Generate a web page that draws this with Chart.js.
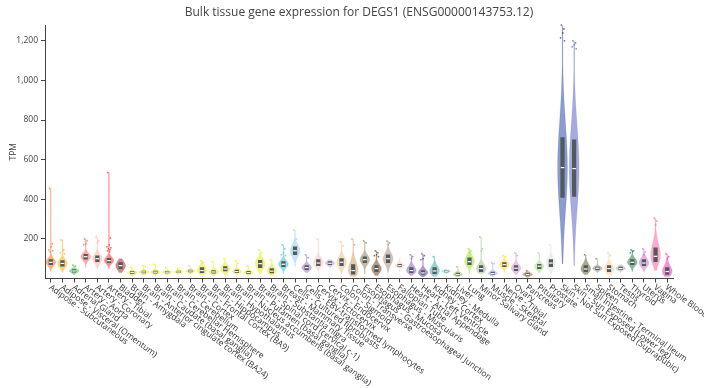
<!DOCTYPE html>
<html>
<head>
<meta charset="utf-8">
<script src="https://cdn.jsdelivr.net/npm/chart.js@4"></script>
<style>
  body { margin: 0; background: #fff; }
  #wrap { width: 704px; height: 388px; }
</style>
</head>
<body>
<div id="wrap"><canvas id="grafico"></canvas></div>
<script>
// tecidos (GTEx)
const tecidos = [
    'Adipose - Subcutaneous', 'Adipose - Visceral (Omentum)', 'Adrenal Gland', 'Artery - Aorta',
    'Artery - Coronary', 'Artery - Tibial', 'Bladder', 'Brain - Amygdala',
    'Brain - Anterior cingulate cortex (BA24)', 'Brain - Caudate (basal ganglia)', 'Brain - Cerebellar Hemisphere', 'Brain - Cerebellum',
    'Brain - Cortex', 'Brain - Frontal Cortex (BA9)', 'Brain - Hippocampus', 'Brain - Hypothalamus',
    'Brain - Nucleus accumbens (basal ganglia)', 'Brain - Putamen (basal ganglia)', 'Brain - Spinal cord (cervical c-1)', 'Brain - Substantia nigra',
    'Breast - Mammary Tissue', 'Cells - Cultured fibroblasts', 'Cells - EBV-transformed lymphocytes', 'Cervix - Ectocervix',
    'Cervix - Endocervix', 'Colon - Sigmoid', 'Colon - Transverse', 'Esophagus - Gastroesophageal Junction',
    'Esophagus - Mucosa', 'Esophagus - Muscularis', 'Fallopian Tube', 'Heart - Atrial Appendage',
    'Heart - Left Ventricle', 'Kidney - Cortex', 'Kidney - Medulla', 'Liver',
    'Lung', 'Minor Salivary Gland', 'Muscle - Skeletal', 'Nerve - Tibial',
    'Ovary', 'Pancreas', 'Pituitary', 'Prostate',
    'Skin - Not Sun Exposed (Suprapubic)', 'Skin - Sun Exposed (Lower leg)', 'Small Intestine - Terminal Ileum', 'Spleen',
    'Stomach', 'Testis', 'Thyroid', 'Uterus',
    'Vagina', 'Whole Blood'
];

const cores = [
    '#ff6600', '#ffaa00', '#33cc33', '#ff5555', '#ffaa99', '#ff2222', '#aa1111', '#e8e800',
    '#e8e800', '#e8e800', '#e8e800', '#e8e800', '#e8e800', '#e8e800', '#e8e800', '#e8e800',
    '#e8e800', '#e8e800', '#e8e800', '#e8e800', '#33bbcc', '#88ccee', '#9966cc', '#ffbbbb',
    '#bb99cc', '#eebb77', '#cc9955', '#8b7355', '#663311', '#aa8877', '#ffbbbb', '#8855bb',
    '#663399', '#33aaaa', '#55ddcc', '#aabb66', '#99dd22', '#99bb88', '#aaaaee', '#ffd700',
    '#dd88cc', '#aa5522', '#99dd77', '#dddddd', '#1a3aa0', '#4a5ac0', '#555522', '#778866',
    '#ffcc88', '#aaaaaa', '#117733', '#cc66cc', '#ff5599', '#ee22bb'
];

// TPM: mínimo, quartil 1, mediana, quartil 3, máximo
const minimos = [35, 30, 18, 55, 45, 45, 30, 12, 15, 12, 18, 20, 22, 18, 12, 18, 12, 12, 25, 15,
    25, 60, 30, 30, 55, 20, 10, 20, 15, 30, 35, 15, 8, 10, 25, 8, 25, 25, 10, 30,
    20, 5, 30, 25, 75, 65, 20, 30, 20, 30, 35, 35, 40, 10];
const q1s = [70, 62, 32, 98, 85, 80, 50, 24, 28, 27, 28, 30, 33, 30, 27, 38, 30, 25, 55, 28,
    60, 120, 45, 65, 70, 65, 22, 80, 35, 80, 60, 30, 20, 25, 33, 15, 70, 35, 20, 60,
    40, 15, 50, 60, 410, 415, 35, 45, 35, 45, 70, 65, 85, 20];
const medianas = [82, 76, 38, 110, 100, 90, 65, 30, 33, 32, 32, 33, 38, 40, 33, 48, 35, 30, 75, 37,
    72, 140, 55, 78, 77, 82, 40, 95, 50, 100, 65, 40, 28, 38, 37, 20, 85, 50, 25, 70,
    52, 20, 62, 78, 560, 555, 48, 52, 50, 50, 82, 78, 112, 35];
const q3s = [95, 90, 45, 122, 115, 102, 80, 35, 38, 38, 36, 37, 42, 55, 40, 60, 42, 36, 92, 50,
    85, 160, 65, 95, 85, 100, 70, 110, 65, 120, 72, 55, 40, 55, 40, 27, 105, 65, 32, 80,
    65, 26, 72, 95, 712, 700, 65, 58, 65, 58, 95, 95, 155, 55];
const maximos = [455, 195, 68, 200, 210, 535, 100, 55, 65, 72, 55, 50, 65, 90, 85, 100, 90, 65, 145, 95,
    170, 245, 120, 200, 95, 185, 200, 190, 140, 190, 105, 120, 125, 110, 48, 60, 150, 210, 80, 115,
    130, 40, 130, 170, 1280, 1200, 120, 100, 130, 70, 145, 150, 305, 125];

// pontos fora da caixa (outliers)
const outliers = [
    [455, 175, 160, 145, 140, 135], [195, 145, 140, 130, 125], [68, 62], [200, 190, 175, 170], [210, 190, 180],
    [535, 205, 170, 160, 155, 150, 145, 140, 135], [], [55], [65, 60], [72],
    [55], [50], [65], [90, 80], [85],
    [100], [90, 75], [65], [145, 130], [95],
    [170, 150, 130, 120, 115], [245, 200], [120, 105], [200], [],
    [185, 165], [200, 170], [190, 180], [140, 130, 120, 115, 110], [190, 180, 170],
    [], [120, 110, 100], [125, 115, 100, 95], [110], [],
    [60], [150, 140, 130], [210, 150, 140], [80, 75], [115, 110],
    [130, 115], [40], [130], [170], [1280, 1260, 1240, 1215, 1200],
    [1200, 1190, 1180, 1170, 1160], [120], [100], [130, 115], [],
    [145, 140, 135, 130], [150, 135, 120], [305, 290, 270], [125, 110, 100]
];

const yTicks = [200, 400, 600, 800, 1000, 1200];

function rgba(hex, a) {
    const n = parseInt(hex.slice(1), 16);
    return 'rgba(' + (n >> 16) + ',' + ((n >> 8) & 255) + ',' + (n & 255) + ',' + a + ')';
}

// violinos desenhados pelas escalas do chart
const violinos = {
    id: 'violinos',
    beforeDatasetsDraw(chart) {
        const ctx = chart.ctx;
        const xs = chart.scales.x, ys = chart.scales.y;
        const meia = xs.width / tecidos.length * 0.42;
        tecidos.forEach((t, i) => {
            const cx = xs.getPixelForValue(i);
            const lo = minimos[i], hi = maximos[i], med = medianas[i];
            const sLo = Math.max((med - q1s[i]) / 0.674, 1);
            const sHi = Math.max((q3s[i] - med) / 0.674, 1);
            const pts = [];
            const n = 80;
            for (let k = 0; k <= n; k++) {
                const v = lo + (hi - lo) * k / n;
                const s = v < med ? sLo : sHi;
                let w = Math.exp(-0.5 * Math.pow((v - med) / s, 2)) * meia;
                if (k > 0 && k < n) w = Math.max(w, 0.35);
                pts.push([ys.getPixelForValue(v), w]);
            }
            ctx.save();
            ctx.beginPath();
            pts.forEach((p, k) => k === 0 ? ctx.moveTo(cx + p[1], p[0]) : ctx.lineTo(cx + p[1], p[0]));
            for (let k = pts.length - 1; k >= 0; k--) ctx.lineTo(cx - pts[k][1], pts[k][0]);
            ctx.closePath();
            ctx.fillStyle = rgba(cores[i], 0.5);
            ctx.fill();
            ctx.strokeStyle = rgba(cores[i], 0.3);
            ctx.lineWidth = 0.5;
            ctx.stroke();
            ctx.restore();
        });
    },
    afterDatasetsDraw(chart) {
        const ctx = chart.ctx;
        const xs = chart.scales.x, ys = chart.scales.y;
        const jitter = [-1.2, 1.4, 0.2, -2, 2, -0.6, 1, -1.6, 0.6];
        tecidos.forEach((t, i) => {
            const cx = xs.getPixelForValue(i);
            const my = ys.getPixelForValue(medianas[i]);
            ctx.fillStyle = '#ffffff';
            ctx.fillRect(cx - 1.8, my - 0.6, 3.6, 1.2);
            ctx.fillStyle = rgba(cores[i], 0.75);
            outliers[i].forEach((v, k) => {
                ctx.beginPath();
                ctx.arc(cx + jitter[k % jitter.length], ys.getPixelForValue(v), 0.85, 0, Math.PI * 2);
                ctx.fill();
            });
        });
    },
    afterDraw(chart) {
        // rótulos do eixo x inclinados para baixo e à direita
        const ctx = chart.ctx;
        const xs = chart.scales.x;
        ctx.save();
        ctx.font = '8.5px "Open Sans"';
        ctx.fillStyle = '#333';
        ctx.textAlign = 'left';
        ctx.textBaseline = 'middle';
        tecidos.forEach((t, i) => {
            const x = xs.getPixelForValue(i);
            ctx.save();
            ctx.translate(x - 1, xs.top + 8);
            ctx.rotate(36 * Math.PI / 180);
            ctx.fillText(t, 0, 0);
            ctx.restore();
        });
        ctx.restore();
    }
};

const ctxGrafico = document.getElementById('grafico').getContext('2d');
new Chart(ctxGrafico, {
    type: 'bar',
    data: {
        labels: tecidos,
        datasets: [{
            label: 'IQR',
            data: tecidos.map((t, i) => [q1s[i], q3s[i]]),
            backgroundColor: '#505a5f',
            barThickness: 3.6,
            borderWidth: 0
        }]
    },
    options: {
        responsive: true,
        maintainAspectRatio: false,
        animation: false,
        layout: { padding: { top: 0, right: 31, bottom: 0, left: 0 } },
        plugins: {
            legend: { display: false },
            tooltip: { enabled: false },
            title: {
                display: true,
                fullSize: false,
                text: 'Bulk tissue gene expression for DEGS1 (ENSG00000143753.12)',
                color: '#444',
                font: { family: 'Open Sans', size: 12, weight: 'normal' },
                padding: { top: 5, bottom: 5.6 }
            }
        },
        scales: {
            x: {
                type: 'category',
                offset: true,
                grid: { display: true, drawOnChartArea: false, drawTicks: true, tickLength: 4, offset: false, color: '#444' },
                border: { display: true, color: '#444' },
                ticks: { display: false },
                afterFit: s => { s.height = 109.5; }
            },
            y: {
                min: 0,
                max: 1280,
                grid: { display: true, drawOnChartArea: false, drawTicks: true, tickLength: 4, color: '#444' },
                border: { display: true, color: '#444' },
                afterBuildTicks: s => { s.ticks = yTicks.map(v => ({ value: v })); },
                ticks: {
                    color: '#444',
                    padding: 3,
                    font: { family: 'Open Sans', size: 8.5 },
                    callback: v => v.toLocaleString('en-US')
                },
                title: {
                    display: true,
                    text: 'TPM',
                    color: '#444',
                    font: { family: 'Open Sans', size: 8.5 },
                    padding: { top: 8, bottom: 0 }
                },
                afterFit: s => { s.width = 45; }
            }
        }
    },
    plugins: [violinos]
});
</script>
</body>
</html>
